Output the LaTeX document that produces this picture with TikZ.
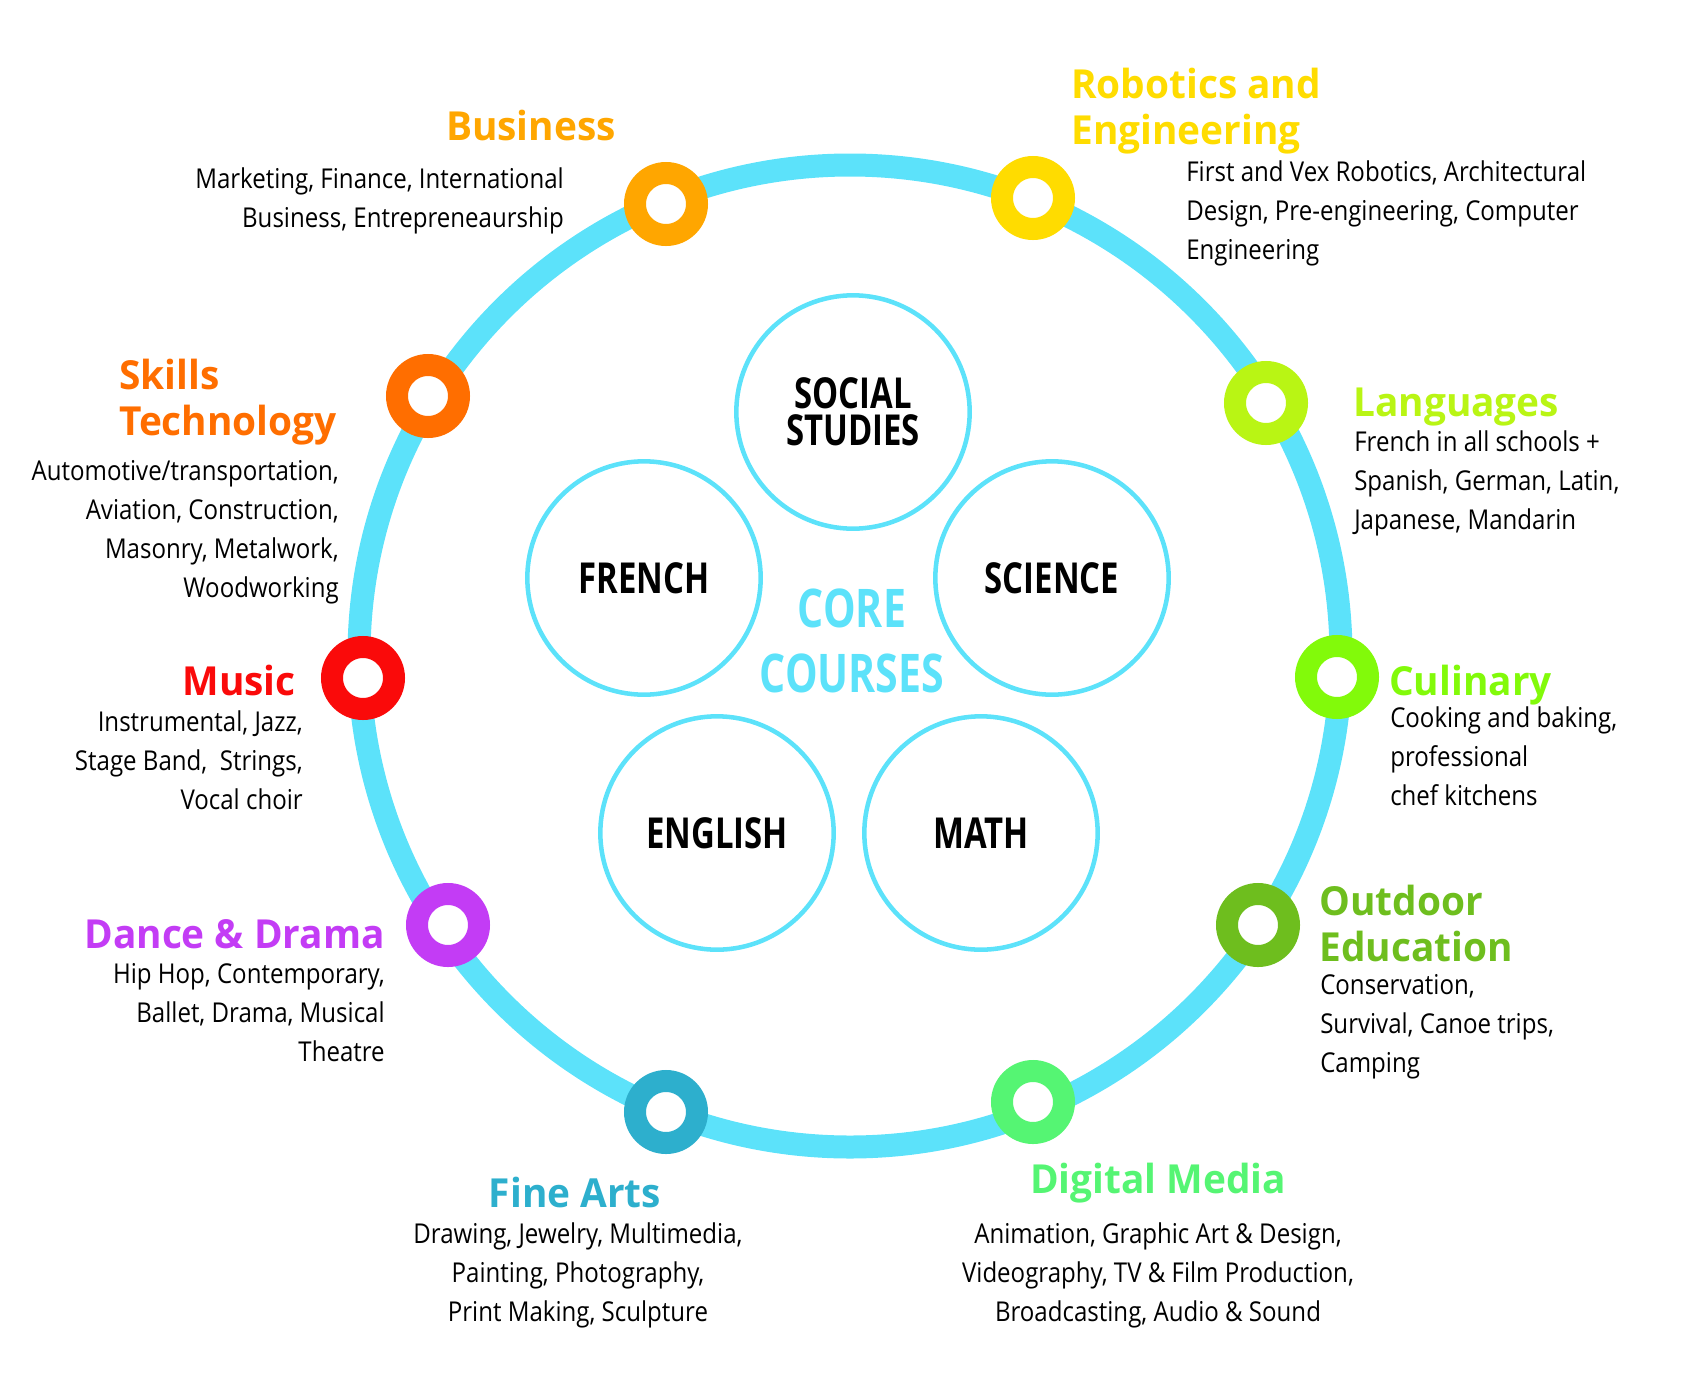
\documentclass[tikz,border=0pt]{standalone}
\usepackage{fontspec}
\setmainfont{Open Sans}[FakeStretch=0.88]
\newfontfamily\headfont{Open Sans}[FakeStretch=0.97]
\newfontfamily\corefont{Open Sans}[FakeStretch=0.77]
\usepackage{xcolor}
\usetikzlibrary{positioning}

\definecolor{ringblue}{RGB}{92,226,250}
\definecolor{business}{RGB}{255,166,0}
\definecolor{robotics}{RGB}{255,220,0}
\definecolor{skills}{RGB}{255,110,0}
\definecolor{languages}{RGB}{185,245,20}
\definecolor{music}{RGB}{250,10,10}
\definecolor{culinary}{RGB}{130,250,10}
\definecolor{dance}{RGB}{195,60,245}
\definecolor{outdoor}{RGB}{110,190,30}
\definecolor{finearts}{RGB}{45,175,205}
\definecolor{digital}{RGB}{85,245,115}

\begin{document}
\begin{tikzpicture}[x=0.75pt,y=0.75pt,yscale=-1,xscale=1,
  badge/.style={circle, draw=#1, fill=white, line width=16.5pt, minimum size=46.5pt, inner sep=0pt},
  course/.style={circle, draw=ringblue, line width=3.4pt, minimum size=175pt, inner sep=0pt, align=center,
    font=\corefont\bfseries\fontsize{32}{28}\selectfont},
  head/.style={inner sep=0.75pt, text=#1, font=\headfont\bfseries\fontsize{30}{34}\selectfont},
  body/.style={inner sep=0.75pt, font=\fontsize{20.5}{29.25}\selectfont}]
\useasboundingbox (0,0) rectangle (1700,1382); %set diagram size 1700 x 1382

%Shape: Circle
\draw [color=ringblue, line width=17.25pt] (850,656) circle [radius=491];

%Shape: Ring markers
\draw (666,204) node (business) [badge=business] {};
\draw (1033,198) node (robotics) [badge=robotics] {};
\draw (428,396) node (skills) [badge=skills] {};
\draw (1266,403) node (languages) [badge=languages] {};
\draw (363,678) node (music) [badge=music] {};
\draw (1337,677) node (culinary) [badge=culinary] {};
\draw (448,925) node (dance) [badge=dance] {};
\draw (1258,925) node (outdoor) [badge=outdoor] {};
\draw (666,1112) node (finearts) [badge=finearts] {};
\draw (1033,1102) node (digital) [badge=digital] {};

%Shape: Core course circles
\draw (853,412) node (social) [course] {SOCIAL\\STUDIES};
\draw (644,578) node (french) [course] {FRENCH};
\draw (1052,578) node (science) [course] {SCIENCE};
\draw (717,833) node (english) [course] {ENGLISH};
\draw (981,833) node (math) [course] {MATH};

% Text Node
\draw (852,641) node (core) [inner sep=0.75pt, align=center, text=ringblue, font=\corefont\bfseries\fontsize{40}{49}\selectfont] {CORE\\COURSES};

% Text Node (base = last line)
\draw (617,140) node (businessHead) [anchor=base east, head=business] {Business};
\draw (565,227) node (businessBody) [anchor=base east, align=right, body] {Marketing, Finance, International\\Business, Entrepreneaurship};
% Text Node
\draw (1070,144) node (roboticsHead) [anchor=base west, align=left, head=robotics] {Robotics and\\Engineering};
\draw (1185,259) node (roboticsBody) [anchor=base west, align=left, body] {First and Vex Robotics, Architectural\\Design, Pre-engineering, Computer\\Engineering};
% Text Node
\draw (118,435) node (skillsHead) [anchor=base west, align=left, head=skills] {Skills\\Technology};
\draw (340,597) node (skillsBody) [anchor=base east, align=right, body] {Automotive/transportation,\\Aviation, Construction,\\Masonry, Metalwork,\\Woodworking};
% Text Node
\draw (1352,416) node (languagesHead) [anchor=base west, head=languages] {Languages};
\draw (1353,529) node (languagesBody) [anchor=base west, align=left, body] {French in all schools +\\Spanish, German, Latin,\\Japanese, Mandarin};
% Text Node
\draw (297,695) node (musicHead) [anchor=base east, head=music] {Music};
\draw (304,809) node (musicBody) [anchor=base east, align=right, body] {Instrumental, Jazz,\\Stage Band,\ \ Strings,\\Vocal choir};
% Text Node
\draw (1388,695) node (culinaryHead) [anchor=base west, head=culinary] {Culinary};
\draw (1389,805) node (culinaryBody) [anchor=base west, align=left, body] {Cooking and baking,\\professional\\chef kitchens};
% Text Node
\draw (386,948) node (danceHead) [anchor=base east, head=dance] {Dance \& Drama};
\draw (386,1061) node (danceBody) [anchor=base east, align=right, body] {Hip Hop, Contemporary,\\Ballet, Drama, Musical\\Theatre};
% Text Node
\draw (1318,961) node (outdoorHead) [anchor=base west, align=left, head=outdoor] {Outdoor\\Education};
\draw (1319,1072) node (outdoorBody) [anchor=base west, align=left, body] {Conservation,\\Survival, Canoe trips,\\Camping};
% Text Node
\draw (575,1207) node (fineartsHead) [anchor=base, head=finearts] {Fine Arts};
\draw (578,1321) node (fineartsBody) [anchor=base, align=center, body] {Drawing, Jewelry, Multimedia,\\Painting, Photography,\\Print Making, Sculpture};
% Text Node
\draw (1158,1193) node (digitalHead) [anchor=base, head=digital] {Digital Media};
\draw (1158,1321) node (digitalBody) [anchor=base, align=center, body] {Animation, Graphic Art \& Design,\\Videography, TV \& Film Production,\\Broadcasting, Audio \& Sound};

\end{tikzpicture}
\end{document}
